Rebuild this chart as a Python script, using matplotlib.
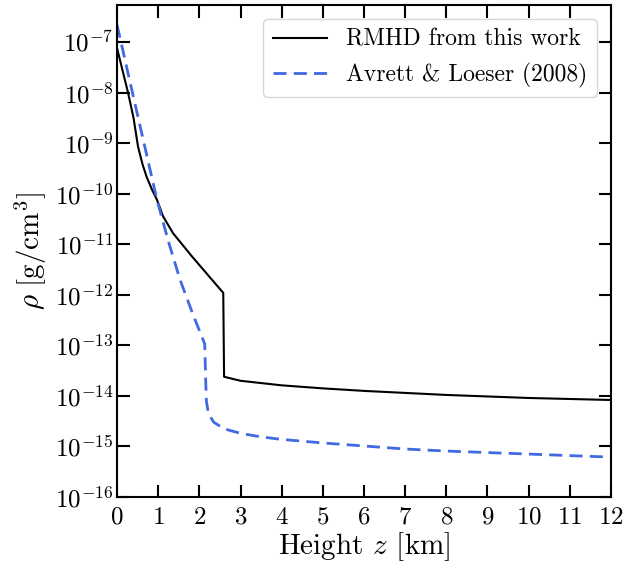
import numpy as np
import matplotlib
matplotlib.use('Agg')
import matplotlib.pyplot as plt
from matplotlib.ticker import NullLocator, LogLocator

plt.rcParams['font.family'] = 'serif'
plt.rcParams['font.serif'] = ['cmr10']
plt.rcParams['mathtext.fontset'] = 'cm'
plt.rcParams['axes.unicode_minus'] = False
plt.rcParams['axes.formatter.use_mathtext'] = True

# RMHD profile (height in km, log10 density in g/cm^3)
z_rmhd = [0.0, 0.1, 0.27, 0.4, 0.51, 0.62, 0.72, 0.85, 0.97, 1.12, 1.36, 1.8, 2.2, 2.58, 2.6,
          3.0, 4.0, 5.0, 6.0, 7.0, 8.0, 9.0, 10.0, 11.0, 12.0]
logrho_rmhd = [-7.12, -7.45, -8.01, -8.5, -9.07, -9.42, -9.67, -9.92, -10.12, -10.45, -10.78,
               -11.22, -11.6, -11.96, -13.62,
               -13.7, -13.79, -13.85, -13.9, -13.94, -13.98, -14.01, -14.04, -14.06, -14.08]

# Avrett & Loeser (2008)
z_al = [0.0, 0.5, 0.97, 1.25, 1.53, 1.85, 2.13, 2.15, 2.17, 2.22, 2.35, 2.6, 3.0, 3.5, 4.0,
        5.0, 6.0, 7.0, 8.0, 9.0, 10.0, 11.0, 12.0]
logrho_al = [-6.66, -8.45, -10.12, -10.95, -11.7, -12.4, -12.97, -13.6, -14.1, -14.35, -14.52,
             -14.65, -14.74, -14.81, -14.86, -14.93, -14.99, -15.05, -15.09, -15.12, -15.15,
             -15.18, -15.21]

fig = plt.figure(figsize=(6.26, 5.70), dpi=100)
ax = fig.add_axes([0.187, 0.128, 0.789, 0.863])

ax.plot(z_rmhd, 10**np.array(logrho_rmhd), color='black', lw=1.5, label='RMHD from this work')
ax.plot(z_al, 10**np.array(logrho_al), color='#4169e1', lw=2, ls=(0, (4.7, 2.6)),
        label='Avrett & Loeser (2008)')

ax.set_yscale('log')
ax.set_xlim(0, 12)
ax.set_ylim(1e-16, 5.4e-7)
ax.set_xticks(range(0, 13))
ax.yaxis.set_major_locator(LogLocator(base=10, numticks=20))
ax.yaxis.set_minor_locator(NullLocator())

ax.tick_params(direction='in', length=9, width=1.5, top=True, right=True, labelsize=18)
ax.tick_params(axis='x', pad=7)
ax.tick_params(axis='y', pad=2.5)
for s in ax.spines.values():
    s.set_linewidth(1.5)

ax.set_xlabel(r'Height $z$ [km]', fontsize=21, labelpad=1)
ax.set_ylabel(r'$\rho\ [\mathrm{g/cm^3}]$', fontsize=21, labelpad=4)
ax.legend(loc='upper right', fontsize=17, handlelength=2.3, borderaxespad=0.6)

fig.savefig('out.png', dpi=100)
